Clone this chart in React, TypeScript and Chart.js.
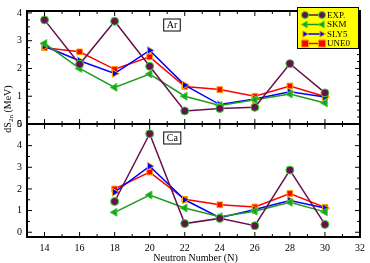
import React, { useEffect, useRef } from "react";
import { Chart, registerables } from "chart.js";

Chart.register(...registerables);

const arN = [14, 16, 18, 20, 22, 24, 26, 28, 30];
const arExp = [3.75, 2.15, 3.7, 2.08, 0.47, 0.56, 0.6, 2.17, 1.12];
const arSkm = [2.9, 2.0, 1.32, 1.8, 1.0, 0.67, 0.87, 1.08, 0.76];
const arSly5 = [2.8, 2.28, 1.82, 2.65, 1.4, 0.7, 0.9, 1.16, 0.97];
const arUne0 = [2.75, 2.6, 1.97, 2.42, 1.35, 1.24, 1.0, 1.37, 0.99];

const caN = [18, 20, 22, 24, 26, 28, 30];
const caExp = [1.42, 4.55, 0.4, 0.64, 0.3, 2.87, 0.36];
const caSkm = [0.92, 1.72, 1.12, 0.72, 0.97, 1.38, 0.94];
const caSly5 = [1.85, 3.05, 1.5, 0.67, 1.05, 1.47, 1.12];
const caUne0 = [2.0, 2.78, 1.52, 1.27, 1.17, 1.79, 1.15];

const xTicks = [14, 16, 18, 20, 22, 24, 26, 28, 30, 32];
const yTopTicks = [0, 1, 2, 3, 4];
const yBotTicks = [0, 1, 2, 3, 4, 5];

const seriesNames = ["EXP.", "SKM", "SLY5", "UNE0"];
const xTitle = "Neutron Number (N)";
const panelLabels = ["Ar", "Ca"];

const FONT = "'Liberation Serif', 'DejaVu Serif', serif";

const styles = [
  { line: "#66104c", fill: "#6b0f4f", edge: "#33dd33", shape: "circle", rot: 0, r: 4 },
  { line: "#1e9a1e", fill: "#1f9f1f", edge: "#33cc33", shape: "triangle", rot: -90, r: 4.5 },
  { line: "#0000ff", fill: "#0000ff", edge: "#ffa500", shape: "triangle", rot: 90, r: 4.5 },
  { line: "#ff0000", fill: "#ff0000", edge: "#ff9900", shape: "rect", rot: 0, r: 4 },
];

function mk(name: string, xs: number[], ys: number[], i: number, axis: string) {
  const s = styles[i];
  return {
    label: name,
    data: xs.map((x, k) => ({ x, y: ys[k] })),
    yAxisID: axis,
    borderColor: s.line,
    borderWidth: 1.5,
    backgroundColor: s.fill,
    pointBackgroundColor: s.fill,
    pointBorderColor: s.edge,
    pointBorderWidth: 1,
    pointStyle: s.shape,
    pointRotation: s.rot,
    pointRadius: s.r,
    tension: 0,
  };
}

function drawMarker(ctx: CanvasRenderingContext2D, i: number, x: number, y: number, r: number) {
  const s = styles[i];
  ctx.save();
  ctx.fillStyle = s.fill;
  ctx.strokeStyle = s.edge;
  ctx.lineWidth = 1;
  ctx.beginPath();
  if (s.shape === "circle") {
    ctx.arc(x, y, r, 0, Math.PI * 2);
  } else if (s.shape === "rect") {
    ctx.rect(x - r, y - r, 2 * r, 2 * r);
  } else {
    if (s.rot < 0) {
      ctx.moveTo(x - r, y);
      ctx.lineTo(x + r * 0.6, y - r * 0.9);
      ctx.lineTo(x + r * 0.6, y + r * 0.9);
    } else {
      ctx.moveTo(x + r, y);
      ctx.lineTo(x - r * 0.6, y - r * 0.9);
      ctx.lineTo(x - r * 0.6, y + r * 0.9);
    }
    ctx.closePath();
  }
  ctx.fill();
  ctx.stroke();
  ctx.restore();
}

const framePlugin = {
  id: "frame",
  afterDatasetsDraw(chart: any) {
    const ctx: CanvasRenderingContext2D = chart.ctx;
    const xs = chart.scales.x;
    const { left, right } = chart.chartArea;
    const panels = [
      { s: chart.scales.yTop, minor: 0.25 },
      { s: chart.scales.yBot, minor: 0.5 },
    ];
    ctx.save();
    ctx.strokeStyle = "#000";
    panels.forEach((p, pi) => {
      const top = p.s.top;
      const bottom = p.s.bottom;
      ctx.strokeStyle = "#000";
      ctx.lineWidth = 1;
      ctx.beginPath();
      for (let v = 13; v <= 32; v++) {
        const px = xs.getPixelForValue(v);
        const len = v % 2 === 0 ? 5 : 3;
        ctx.moveTo(px, bottom);
        ctx.lineTo(px, bottom - len);
        ctx.moveTo(px, top);
        ctx.lineTo(px, top + len);
      }
      const mn = p.s.min;
      const mx = p.s.max;
      const start = Math.ceil(mn / p.minor) * p.minor;
      for (let v = start; v <= mx + 1e-9; v += p.minor) {
        const py = p.s.getPixelForValue(v);
        const major = Math.abs(v - Math.round(v)) < 1e-6;
        const len = major ? 5 : 3;
        ctx.moveTo(left, py);
        ctx.lineTo(left + len, py);
        ctx.moveTo(right, py);
        ctx.lineTo(right - len, py);
      }
      ctx.stroke();
      ctx.lineWidth = 2;
      ctx.strokeRect(left, top, right - left, bottom - top);

      // panel label
      const lx = xs.getPixelForValue(20.8);
      const ly = top + 8;
      ctx.font = `10px ${FONT}`;
      const tw = ctx.measureText(panelLabels[pi]).width;
      ctx.fillStyle = "#fff";
      ctx.lineWidth = 1;
      ctx.fillRect(lx, ly, tw + 6, 12);
      ctx.strokeRect(lx, ly, tw + 6, 12);
      ctx.fillStyle = "#000";
      ctx.textBaseline = "middle";
      ctx.textAlign = "left";
      ctx.fillText(panelLabels[pi], lx + 3, ly + 6.5);
    });

    // legend
    const bx = 297, by = 7, bw = 61, bh = 41;
    ctx.fillStyle = "#ffff00";
    ctx.fillRect(bx, by, bw, bh);
    ctx.lineWidth = 1;
    ctx.strokeStyle = "#000";
    ctx.strokeRect(bx + 0.5, by + 0.5, bw, bh);
    ctx.font = `9px ${FONT}`;
    ctx.textAlign = "left";
    ctx.textBaseline = "middle";
    seriesNames.forEach((name, i) => {
      const y = by + 8 + i * 9.5;
      ctx.strokeStyle = styles[i].line;
      ctx.lineWidth = 1.5;
      ctx.beginPath();
      ctx.moveTo(305, y);
      ctx.lineTo(322, y);
      ctx.stroke();
      drawMarker(ctx, i, 305, y, 3.5);
      drawMarker(ctx, i, 322, y, 3.5);
      ctx.fillStyle = "#000";
      ctx.fillText(name, 327, y + 0.5);
    });

    // axis titles
    ctx.fillStyle = "#000";
    ctx.textAlign = "center";
    ctx.textBaseline = "middle";
    ctx.font = `10px ${FONT}`;
    ctx.fillText(xTitle, (left + right) / 2 + 2, 258);

    ctx.save();
    ctx.translate(8, 109);
    ctx.rotate(-Math.PI / 2);
    ctx.textAlign = "left";
    const p1 = "dS";
    const p2 = "2n";
    const p3 = " (MeV)";
    ctx.font = `10px ${FONT}`;
    const w1 = ctx.measureText(p1).width;
    const w3 = ctx.measureText(p3).width;
    ctx.font = `7px ${FONT}`;
    const w2 = ctx.measureText(p2).width;
    const total = w1 + w2 + w3;
    let cx = -total / 2;
    ctx.font = `10px ${FONT}`;
    ctx.fillText(p1, cx, 0);
    cx += w1;
    ctx.font = `7px ${FONT}`;
    ctx.fillText(p2, cx, 3);
    cx += w2;
    ctx.font = `10px ${FONT}`;
    ctx.fillText(p3, cx, 0);
    ctx.restore();

    ctx.restore();
  },
};

const setTicks = (vals: number[]) => (scale: any) => {
  scale.ticks = vals.map((v) => ({ value: v }));
};

export default function App() {
  const ref = useRef<HTMLCanvasElement | null>(null);
  useEffect(() => {
    if (!ref.current) return;
    const datasets: any[] = [
      mk(seriesNames[0], arN, arExp, 0, "yTop"),
      mk(seriesNames[1], arN, arSkm, 1, "yTop"),
      mk(seriesNames[2], arN, arSly5, 2, "yTop"),
      mk(seriesNames[3], arN, arUne0, 3, "yTop"),
      mk(seriesNames[0], caN, caExp, 0, "yBot"),
      mk(seriesNames[1], caN, caSkm, 1, "yBot"),
      mk(seriesNames[2], caN, caSly5, 2, "yBot"),
      mk(seriesNames[3], caN, caUne0, 3, "yBot"),
    ];
    const tickFont = { family: FONT, size: 10 };
    const chart = new Chart(ref.current, {
      type: "line",
      data: { datasets },
      plugins: [framePlugin],
      options: {
        animation: false,
        responsive: false,
        devicePixelRatio: 1,
        layout: { padding: { left: 0, right: 8, top: 4, bottom: 0 } },
        plugins: { legend: { display: false }, tooltip: { enabled: false } },
        scales: {
          x: {
            type: "linear",
            min: 13,
            max: 32,
            afterBuildTicks: setTicks(xTicks),
            ticks: { color: "#000", font: tickFont, padding: 5, maxRotation: 0, autoSkip: false },
            grid: { display: false, drawTicks: false },
            border: { display: false },
            afterFit: (s: any) => {
              s.height = 26;
            },
          },
          yTop: {
            type: "linear",
            position: "left",
            stack: "ys",
            stackWeight: 1,
            weight: 2,
            min: 0,
            max: 4.07,
            afterBuildTicks: setTicks(yTopTicks),
            ticks: { color: "#000", font: tickFont, padding: 5, autoSkip: false },
            grid: { display: false, drawTicks: false },
            border: { display: false },
            afterFit: (s: any) => {
              s.width = 27;
            },
          },
          yBot: {
            type: "linear",
            position: "left",
            stack: "ys",
            stackWeight: 1,
            weight: 1,
            min: -0.22,
            max: 5,
            afterBuildTicks: setTicks(yBotTicks),
            ticks: { color: "#000", font: tickFont, padding: 5, autoSkip: false },
            grid: { display: false, drawTicks: false },
            border: { display: false },
            afterFit: (s: any) => {
              s.width = 27;
            },
          },
        },
      } as any,
    });
    return () => chart.destroy();
  }, []);
  return (
    <div style={{ position: "fixed", left: 0, top: 0, width: 370, height: 263, background: "#fff" }}>
      <canvas ref={ref} width={370} height={263} style={{ width: 370, height: 263, display: "block" }} />
    </div>
  );
}
